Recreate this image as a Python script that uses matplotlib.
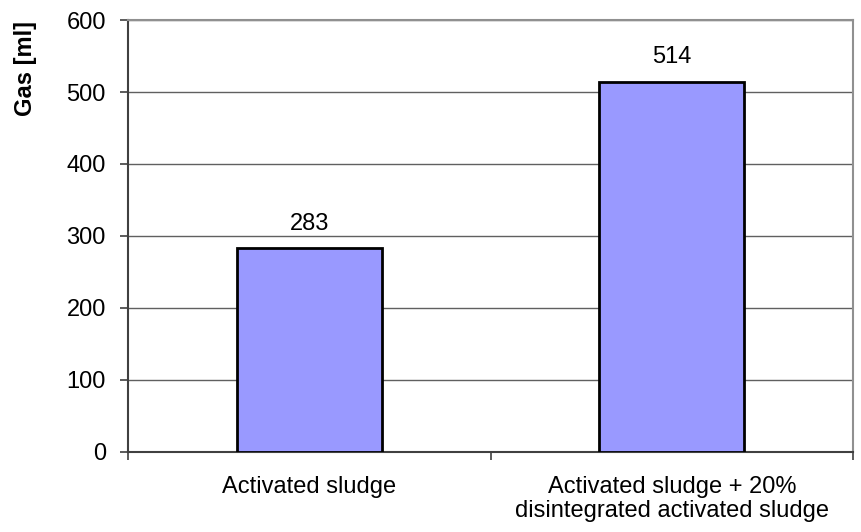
import matplotlib.pyplot as plt
import numpy as np

plt.rcParams['font.family'] = ['Liberation Sans', 'DejaVu Sans']

categories = ['Activated sludge', 'Activated sludge + 20%\ndisintegrated activated sludge']
gas_ml = [283, 514]
y_ticks = [0, 100, 200, 300, 400, 500, 600]

fig = plt.figure(figsize=(8.62, 5.32), dpi=100)
ax = fig.add_axes([0.1485, 0.1504, 0.8411, 0.812])

x = np.arange(len(categories))
ax.bar(x, gas_ml, width=0.4, color='#9999ff', edgecolor='black', linewidth=2, zorder=3)

for xi, v in zip(x, gas_ml):
    ax.text(xi, v + 26, str(v), ha='center', va='baseline', fontsize=17)

ax.set_xlim(-0.5, len(categories) - 0.5)
ax.set_ylim(0, 600)
ax.set_yticks(y_ticks)
ax.yaxis.grid(True, color='#606060', linewidth=1, zorder=0)

# labels sit under bar centres, tick marks on category boundaries
ax.set_xticks(x)
ax.set_xticklabels(categories, fontsize=17, linespacing=1.15)
ax.tick_params(axis='x', which='major', length=0, pad=17)
ax.set_xticks(np.arange(-0.5, len(categories)), minor=True)
ax.tick_params(axis='x', which='minor', length=6, width=1.2, color='#404040')
ax.tick_params(axis='y', labelsize=17, length=6, width=1.2, color='#404040', pad=10)

for side in ['left', 'bottom']:
    ax.spines[side].set_color('#404040')
    ax.spines[side].set_linewidth(1.5)
for side in ['top', 'right']:
    ax.spines[side].set_color('#909090')
    ax.spines[side].set_linewidth(1.5)

ax.set_ylabel('Gas [ml]', fontsize=17, fontweight='bold')
ax.yaxis.set_label_coords(-0.1255, 0.887)

fig.savefig('out.png', dpi=100)
